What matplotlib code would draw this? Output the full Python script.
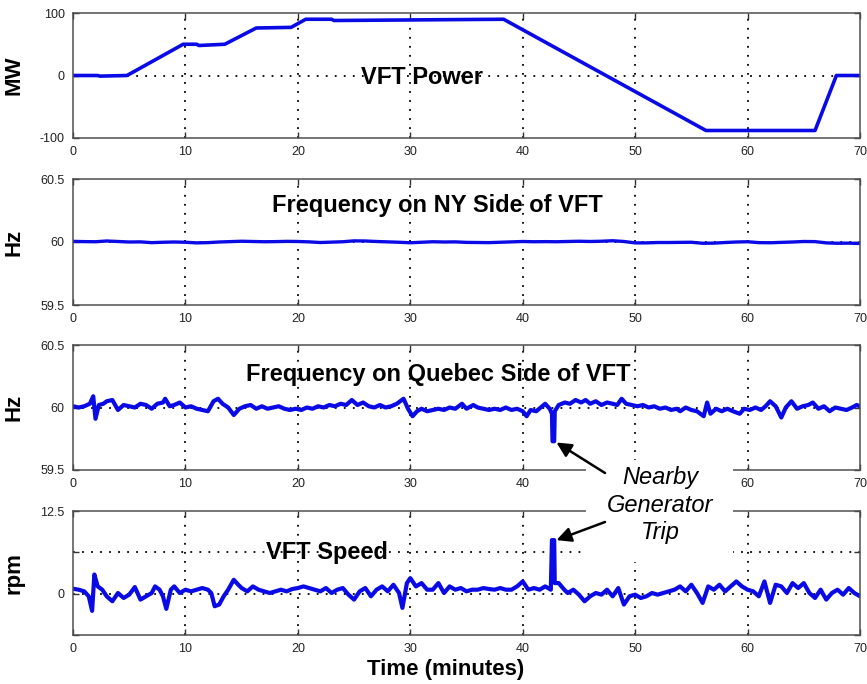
import numpy as np
import matplotlib.pyplot as plt
from matplotlib.patches import ConnectionPatch, Rectangle

plt.rcParams['font.family'] = ['Liberation Sans', 'DejaVu Sans']

time_ticks = [0, 10, 20, 30, 40, 50, 60, 70]

# VFT power schedule (MW)
power_t = [0, 2.2, 2.4, 4.8, 9.8, 11.0, 11.2, 13.5, 16.3, 19.4, 20.7, 23.0, 23.2, 38.3, 56.3, 66.0, 67.9, 70]
power_mw = [0, 0, -1, 0, 50, 50, 48, 50, 76, 77, 90, 90, 88, 90, -88, -88, 0, 0]

# frequency on NY side, one sample per minute (Hz)
ny_t = list(range(71))
ny_hz = [60.005, 60.003, 60.002, 60.008, 60.004, 60.000, 60.001, 59.995, 59.998, 60.000,
         59.998, 59.993, 59.995, 60.000, 60.003, 60.006, 60.004, 60.002, 60.003, 60.005,
         60.004, 60.001, 59.996, 59.999, 60.002, 60.009, 60.008, 60.004, 60.001, 59.998,
         59.994, 59.998, 60.002, 60.000, 60.001, 59.997, 59.996, 59.995, 59.998, 60.001,
         60.004, 60.002, 60.003, 60.002, 60.004, 60.006, 60.004, 60.006, 60.010, 60.004,
         59.993, 59.993, 59.996, 59.996, 59.997, 59.998, 59.990, 59.991, 59.996, 60.000,
         60.002, 59.995, 59.994, 59.997, 60.000, 60.004, 60.003, 59.993, 59.990, 59.991,
         59.988]

# frequency on Quebec side (Hz)
quebec_t = [0, 0.5, 1.0, 1.5, 1.8, 2.0, 2.3, 2.7, 3.0, 3.5, 4.0, 4.5, 5.0, 5.5, 6.0, 6.5,
            7.0, 7.5, 8.0, 8.2, 8.6, 9.0, 9.5, 10.0, 10.5, 11.0, 11.5, 12.0, 12.5, 12.9,
            13.3, 13.8, 14.3, 14.8, 15.3, 15.8, 16.3, 16.8, 17.3, 17.8, 18.3, 18.8, 19.3,
            19.8, 20.3, 20.8, 21.3, 21.8, 22.3, 22.8, 23.3, 23.8, 24.3, 24.8, 25.3, 25.8,
            26.3, 26.8, 27.3, 27.8, 28.3, 28.8, 29.4, 29.8, 30.2, 30.6, 31.0, 31.5,
            32.0, 32.5, 33.0, 33.5, 34.0, 34.6, 35.0, 35.6, 36.0, 36.5, 37.0, 37.5, 38.0,
            38.5, 39.0, 39.5, 40.0, 40.35, 40.7, 41.2, 41.6, 42.0, 42.4, 42.6, 42.65, 42.8,
            42.85, 43.2, 43.75, 44.2, 44.7, 45.2, 45.6, 46.0, 46.5, 47.0, 47.5, 48.0, 48.4,
            48.8, 49.2, 49.7, 50.2, 50.7, 51.2, 51.7, 52.2, 52.7, 53.2, 53.7, 54.0, 54.5,
            55.0, 55.5, 56.1, 56.4, 56.7, 57.2, 57.7, 58.2, 58.7, 59.3, 59.7, 60.2, 60.7,
            61.2, 61.6, 62.0, 62.5, 63.0, 63.4, 63.9, 64.4, 64.9, 65.4, 65.8, 66.3, 66.8,
            67.3, 67.8, 68.3, 68.8, 69.3, 69.7, 70.0]
quebec_hz = [60.01, 60.00, 60.01, 60.03, 60.09, 59.91, 60.02, 60.03, 60.05, 60.06, 59.98,
             60.02, 60.01, 60.00, 60.03, 60.02, 59.99, 60.03, 60.04, 60.07, 60.01, 60.02,
             60.04, 60.00, 60.01, 59.99, 59.98, 59.97, 60.05, 60.07, 60.03, 60.00, 59.94,
             59.99, 60.01, 60.02, 59.99, 60.01, 59.99, 60.00, 60.01, 59.99, 59.98, 59.99,
             59.98, 60.00, 59.99, 60.01, 60.00, 60.02, 60.01, 60.03, 60.02, 60.06, 60.02,
             60.04, 60.01, 60.00, 60.02, 60.00, 60.01, 60.03, 60.07, 59.99, 59.93, 59.97,
             59.99, 59.97,
             59.98, 59.99, 59.98, 60.00, 59.99, 60.03, 59.99, 60.02, 60.00, 59.99, 59.98,
             59.99, 59.98, 60.00, 59.98, 59.99, 59.97, 59.93, 59.98, 59.97, 60.00, 60.03,
             59.99, 59.95, 59.73, 59.73, 59.97, 60.02, 60.04, 60.03, 60.06, 60.04, 60.06,
             60.03, 60.05, 60.02, 60.04, 60.03, 60.02, 60.07, 60.03, 60.02, 60.01, 60.02,
             60.00, 60.01, 59.99, 60.00, 59.98, 59.99, 59.97, 60.00, 59.98, 59.97, 59.93,
             60.04, 59.95, 59.99, 59.97, 59.99, 59.97, 59.95, 59.99, 59.98, 60.00, 59.98,
             60.01, 60.05, 60.01, 59.92, 60.00, 60.05, 59.99, 60.01, 60.02, 60.04, 59.99,
             60.01, 59.97, 60.00, 59.99, 59.98, 60.00, 60.02, 60.01]

# VFT speed (rpm)
speed_t = [0, 0.5, 1.0, 1.4, 1.7, 1.9, 2.2, 2.6, 3.0, 3.5, 4.0, 4.5, 5.0, 5.5, 6.0, 6.5,
           7.0, 7.3, 7.7, 8.0, 8.3, 8.7, 9.0, 9.5, 10.0, 10.5, 11.0, 11.5, 12.0, 12.3,
           12.6, 13.0, 13.4, 13.8, 14.3, 14.7, 15.0, 15.5, 16.0, 16.5, 17.0, 17.5, 18.0,
           18.5, 19.0, 19.5, 20.0, 20.5, 21.0, 21.5, 22.0, 22.5, 23.0, 23.5, 24.0, 24.5,
           25.0, 25.5, 26.0, 26.5, 27.0, 27.5, 28.0, 28.5, 29.0, 29.3, 29.7, 30.0, 30.5,
           31.0, 31.5, 32.0, 32.5, 33.0, 33.5, 34.0, 34.5, 35.0, 35.5, 36.0, 36.5, 37.0,
           37.5, 38.0, 38.5, 39.0, 39.5, 40.0, 40.5, 41.0, 41.5, 42.0, 42.5, 42.6, 42.8,
           42.85, 43.2, 43.7, 44.0, 44.5, 45.0, 45.5, 46.0, 46.5, 47.0, 47.5, 48.0, 48.5,
           49.0, 49.5, 50.0, 50.5, 51.0, 51.5, 52.0, 52.5, 53.0, 53.5, 54.0, 54.5, 55.0,
           55.5, 56.0, 56.5, 57.0, 57.5, 58.0, 58.5, 59.0, 59.5, 60.0, 60.5, 61.0, 61.5,
           62.0, 62.5, 63.0, 63.5, 64.0, 64.5, 65.0, 65.5, 66.0, 66.5, 67.0, 67.5, 68.0,
           68.5, 69.0, 69.5, 70.0]
speed_rpm = [0.75, 0.6, 0.35, -0.4, -2.6, 2.9, 1.1, 0.6, -0.4, -1.15, 0.1, -0.65, -0.15,
             1.0, -0.9, -0.4, 0.1, 1.1, 0.6, -0.4, -2.3, 0.6, 1.1, 0.1, 0.6, 0.35, 0.6,
             0.85, 0.6, 0.1, -1.9, -1.65, -0.4, 0.6, 2.1, 1.35, 0.85, 0.35, 1.1, 0.6, 0.35,
             0.1, 0.35, 0.6, 0.35, 0.7, 0.85, 1.1, 0.85, 0.6, 0.35, 0.85, 0.1, 0.6, 0.85,
             -0.15, -0.9, 0.35, 0.85, -0.4, 0.6, 1.1, 0.35, 1.35, 0.1, -2.15, 1.6, 2.35,
             1.1, 1.6, 0.6, 0.6, 1.6, 0.1, 1.1, 0.6, 0.85, 0.35, 0.6, 0.6, 0.85, 0.7, 0.6,
             0.85, 0.6, 0.6, 1.1, 1.85, 0.6, 0.85, 0.6, 1.1, 0.6, 8.1, 8.1, 1.6, 1.6, 0.6,
             0.1, 0.6, -0.15, -1.15, -0.4, 0.1, -0.15, 0.6, -0.4, 0.85, -1.65, -0.4, -0.15,
             -0.65, -0.4, 0.1, -0.15, 0.1, 0.35, 0.6, 1.1, 0.35, 1.35, 0.1, -1.4, 1.1, 0.6,
             1.35, 0.35, 1.1, 1.85, 1.1, 0.6, 0.35, -0.4, 1.85, -1.4, 1.35, 1.1, 0.1, 1.6,
             0.85, 1.6, 0.1, -0.65, 0.6, -0.9, 0.1, 0.6, -0.15, 0.85, 0.1, -0.4]

W, H = 867, 684
BLUE = '#0a0ae6'
fig = plt.figure(figsize=(W / 100, H / 100), dpi=100)


def panel(top, bottom, ylim, yticks, yticklabels, ylabel):
    ax = fig.add_axes([73 / W, 1 - bottom / H, 787 / W, (bottom - top) / H])
    ax.set_xlim(0, 70)
    ax.set_xticks(time_ticks)
    ax.set_ylim(*ylim)
    ax.set_yticks(yticks)
    ax.set_yticklabels(yticklabels)
    ax.tick_params(direction='in', top=True, right=True, length=4, width=1,
                   labelsize=9, colors='#333333', labelcolor='#222222', pad=6)
    for s in ax.spines.values():
        s.set_color('#505050')
        s.set_linewidth(1.1)
    ax.grid(True, linestyle=(0, (1, 4)), color='k', linewidth=1.3)
    ax.set_axisbelow(True)
    # no grid lines on top of the frame
    for lines in (ax.xaxis.get_gridlines(), ax.yaxis.get_gridlines()):
        lines[0].set_visible(False)
        lines[-1].set_visible(False)
    ax.set_ylabel(ylabel, fontsize=16, fontweight='bold')
    ax.yaxis.set_label_coords(-0.062, 0.5)
    return ax


ax1 = panel(13, 138, (-100, 100), [-100, 0, 100], ['-100', '0', '100'], 'MW')
ax1.plot(power_t, power_mw, color=BLUE, lw=2.6)
ax1.text(31.0, -3, 'VFT Power', ha='center', va='center', fontsize=17, fontweight='bold')

ax2 = panel(179, 305, (59.5, 60.5), [59.5, 60, 60.5], ['59.5', '60', '60.5'], 'Hz')
ax2.plot(ny_t, ny_hz, color=BLUE, lw=2.4)
ax2.text(32.4, 60.29, 'Frequency on NY Side of VFT', ha='center', va='center',
         fontsize=17, fontweight='bold')

ax3 = panel(345, 470, (59.5, 60.5), [59.5, 60, 60.5], ['59.5', '60', '60.5'], 'Hz')
ax3.plot(quebec_t, quebec_hz, color=BLUE, lw=3)
ax3.set_xticklabels(['0', '10', '20', '30', '40', '', '60', '70'])
ax3.text(32.5, 60.26, 'Frequency on Quebec Side of VFT', ha='center', va='center',
         fontsize=17, fontweight='bold')

ax4 = panel(511, 635, (-6.25, 12.5), [-6.25, 0, 6.25, 12.5], ['', '0', '', '12.5'], 'rpm')
ax4.plot(speed_t, speed_rpm, color=BLUE, lw=3)
ax4.text(22.6, 6.3, 'VFT Speed', ha='center', va='center', fontsize=17, fontweight='bold')

fig.text(446 / W, 1 - 669 / H, 'Time (minutes)', ha='center', va='center',
         fontsize=16, fontweight='bold')

# note box for the generator trip, sitting over the gap between the last two panels
fig.add_artist(Rectangle((586 / W, 1 - 562 / H), 147 / W, 102 / H,
                         transform=fig.transFigure, facecolor='white',
                         edgecolor='none', zorder=3))
fig.text(660 / W, 1 - 505 / H, 'Nearby\nGenerator\nTrip', ha='center', va='center',
         fontsize=17, style='italic', linespacing=1.27, zorder=4)

for tail, head, ax in [((605, 473), (43.0, 59.72), ax3), ((605, 522), (43.0, 8.1), ax4)]:
    arrow = ConnectionPatch(xyA=(tail[0] / W, 1 - tail[1] / H), coordsA=fig.transFigure,
                            xyB=head, coordsB=ax.transData, arrowstyle='-|>',
                            mutation_scale=22, lw=1.8, color='k', shrinkA=0, shrinkB=0)
    arrow.set_zorder(5)
    fig.add_artist(arrow)

fig.savefig('out.png', dpi=100)
